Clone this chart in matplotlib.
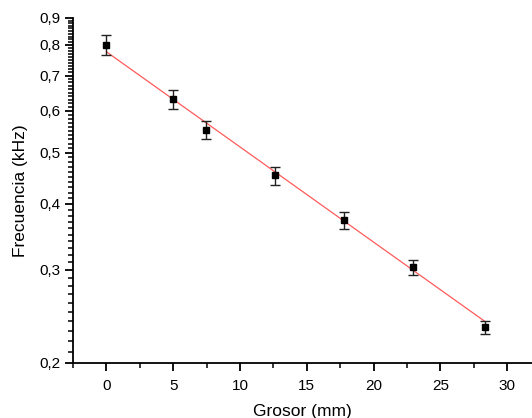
import numpy as np
import matplotlib
matplotlib.use("Agg")
from matplotlib import pyplot as plt

# measured data
grosor = [0.0, 5.0, 7.45, 12.6, 17.8, 22.95, 28.3]
frecuencia = [0.800, 0.632, 0.552, 0.453, 0.373, 0.3035, 0.2336]
error = [0.035, 0.026, 0.022, 0.018, 0.014, 0.010, 0.0065]

# fitted exponential (straight on log axis), end points
fit_x = [0.0, 28.3]
fit_y = [0.777, 0.240]

y_ticks = [0.2, 0.3, 0.4, 0.5, 0.6, 0.7, 0.8, 0.9]
y_labels = ["0,2", "0,3", "0,4", "0,5", "0,6", "0,7", "0,8", "0,9"]
x_ticks = [0, 5, 10, 15, 20, 25, 30]
x_minor = [-2.5, 2.5, 7.5, 12.5, 17.5, 22.5, 27.5]

plt.rcParams["font.family"] = ["Liberation Sans", "DejaVu Sans"]

fig = plt.figure(figsize=(5.32, 4.18), dpi=100)
ax = fig.add_axes([0.137, 0.1316, 0.863, 0.8254])

ax.plot(fit_x, fit_y, color="#ff5a5a", lw=0.9, zorder=2)
ax.errorbar(grosor, frecuencia, yerr=error, fmt="s", color="black", ms=4.5,
            ecolor="#222222", elinewidth=1.0, capsize=3.5, capthick=1.0, zorder=3)

ax.set_yscale("log")
ax.set_ylim(0.2, 0.9)
ax.set_xlim(-2.5, 31.85)
ax.set_yticks(y_ticks)
ax.set_yticklabels(y_labels)
# minor ticks every 0.01
y_minor = [0.2 + 0.01 * i for i in range(71)]
y_minor = [m for m in y_minor if min(abs(m - t) for t in y_ticks) > 1e-6]
ax.set_yticks(y_minor, minor=True)
ax.set_yticklabels([""] * len(y_minor), minor=True)

ax.set_xticks(x_ticks)
ax.set_xticks(x_minor, minor=True)

for s in ["top", "right"]:
    ax.spines[s].set_visible(False)
for s in ["left", "bottom"]:
    ax.spines[s].set_linewidth(1.3)

ax.tick_params(which="major", direction="out", length=5.5, width=1.3, labelsize=11)
ax.tick_params(which="minor", direction="out", length=3.5, width=1.1)
ax.tick_params(axis="x", pad=6)

ax.set_xlabel("Grosor (mm)", fontsize=12.5, labelpad=8)
ax.set_ylabel("Frecuencia (kHz)", fontsize=12.5, labelpad=8)

fig.savefig("out.png", dpi=100)
